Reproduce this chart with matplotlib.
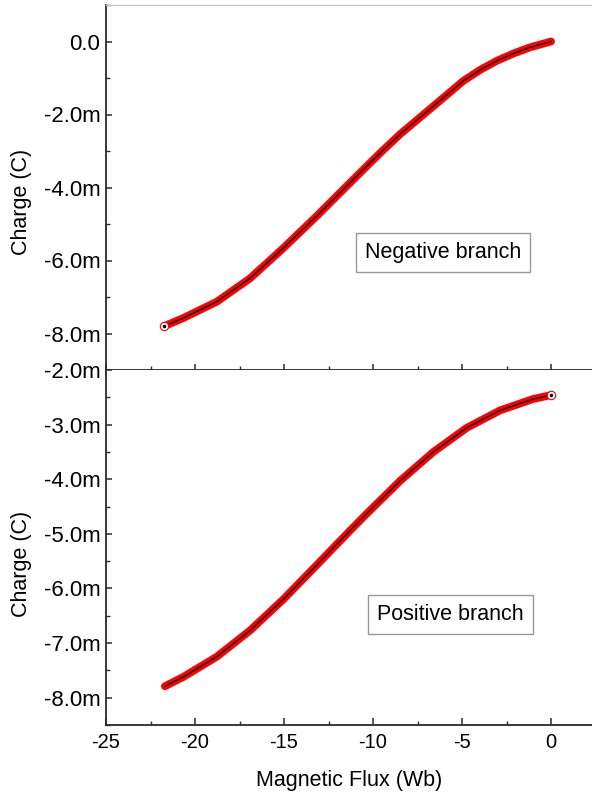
import matplotlib
matplotlib.use("Agg")
import matplotlib.pyplot as plt
from matplotlib.ticker import MultipleLocator, FuncFormatter

plt.rcParams["font.family"] = ["Liberation Sans", "DejaVu Sans"]
plt.rcParams["axes.unicode_minus"] = False

# negative branch: flux (Wb) vs charge (mC)
neg_flux = [-21.74, -20.67, -18.78, -16.91, -15.06, -13.16, -11.29, -10.28,
            -9.44, -8.48, -6.24, -4.93, -3.99, -3.05, -2.12, -1.18, 0.0]
neg_charge = [-7.80, -7.58, -7.13, -6.49, -5.67, -4.78, -3.87, -3.38,
              -2.98, -2.54, -1.62, -1.08, -0.78, -0.53, -0.33, -0.16, 0.0]

# positive branch
pos_flux = [-21.69, -20.66, -18.78, -16.91, -15.04, -13.16, -11.29, -10.35,
            -8.48, -6.61, -4.74, -2.87, -1.00, 0.0]
pos_charge = [-7.79, -7.62, -7.25, -6.77, -6.20, -5.57, -4.94, -4.63,
              -4.03, -3.50, -3.06, -2.74, -2.53, -2.46]

W, H = 592, 793
fig = plt.figure(figsize=(W / 100, H / 100), dpi=100)
left = 106 / W
ax_top = fig.add_axes([left, 1 - 370 / H, 1 - left, 365 / H])
ax_bot = fig.add_axes([left, 1 - 725 / H, 1 - left, 355 / H], sharex=ax_top)

spine_col = "#2a2a2a"


def milli(v, pos):
    if abs(v) < 1e-9:
        return "0.0"
    return f"{v:.1f}m"


def draw_branch(ax, x, y, mark):
    ax.plot(x, y, color="red", lw=5.6, solid_capstyle="round",
            solid_joinstyle="round", zorder=2)
    ax.plot(x, y, color="black", lw=1.0, solid_joinstyle="round", zorder=3)
    ax.plot([x[mark]], [y[mark]], "o", ms=6, mfc="white", mec="red",
            mew=0.8, zorder=4)
    ax.plot([x[mark]], [y[mark]], "o", ms=1.5, color="black", zorder=5)


draw_branch(ax_top, neg_flux, neg_charge, 0)
draw_branch(ax_bot, pos_flux, pos_charge, -1)

ax_top.set_xlim(-25, 2.3)
ax_top.set_ylim(-9.0, 1.0)
ax_bot.set_ylim(-8.5, -2.0)

for ax in (ax_top, ax_bot):
    ax.xaxis.set_major_locator(MultipleLocator(5))
    ax.xaxis.set_minor_locator(MultipleLocator(2.5))
    ax.yaxis.set_major_formatter(FuncFormatter(milli))
    ax.spines["right"].set_visible(False)
    ax.spines["left"].set_color(spine_col)
    ax.spines["left"].set_linewidth(1.3)
    ax.spines["bottom"].set_color(spine_col)
    ax.spines["bottom"].set_linewidth(1.3)
    ax.tick_params(axis="y", which="major", direction="in", length=4.5,
                   width=1.1, color=spine_col, labelsize=16, pad=4)
    ax.tick_params(axis="y", which="minor", direction="in", length=2.6,
                   width=1.0, color=spine_col)
    ax.set_ylabel("Charge (C)", fontsize=15.5)

ax_top.yaxis.set_major_locator(MultipleLocator(2))
ax_top.yaxis.set_minor_locator(MultipleLocator(1))
ax_bot.yaxis.set_major_locator(MultipleLocator(1))
ax_bot.yaxis.set_minor_locator(MultipleLocator(0.5))

ax_top.spines["top"].set_color("#c8c8c8")
ax_top.spines["top"].set_linewidth(1.0)
ax_bot.spines["top"].set_visible(False)

ax_top.tick_params(axis="x", which="major", direction="inout", length=9,
                   width=1.1, color=spine_col, labelbottom=False)
ax_top.tick_params(axis="x", which="minor", direction="inout", length=6,
                   width=1.0, color=spine_col)
ax_bot.tick_params(axis="x", which="major", direction="in", length=5,
                   width=1.1, color=spine_col, labelsize=14.5, pad=6)
ax_bot.tick_params(axis="x", which="minor", direction="in", length=3,
                   width=1.0, color=spine_col)

ax_top.yaxis.set_label_coords(-0.152, 0.46)
ax_bot.yaxis.set_label_coords(-0.152, 0.455)
ax_bot.set_xlabel("Magnetic Flux (Wb)", fontsize=15.5, labelpad=13)

box = dict(boxstyle="square,pad=0.42", fc="white", ec="#999999", lw=1.0)
ax_top.text(0.693, 0.322, "Negative branch", transform=ax_top.transAxes,
            ha="center", va="center", fontsize=15.5, bbox=box)
ax_bot.text(0.709, 0.311, "Positive branch", transform=ax_bot.transAxes,
            ha="center", va="center", fontsize=15.5, bbox=box)

fig.savefig("out.png", dpi=100)
